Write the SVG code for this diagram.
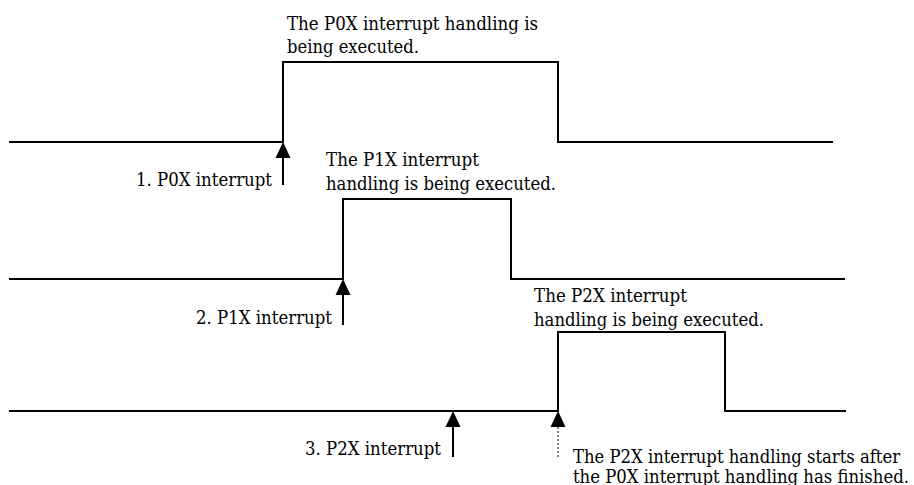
<svg xmlns="http://www.w3.org/2000/svg" width="914" height="485" viewBox="0 0 914 485">
<style>
.sig{fill:none;stroke:#000;stroke-width:2}
.arr{stroke:#000;stroke-width:2}
.dot{stroke:#000;stroke-width:1;stroke-dasharray:2 2}
.head{fill:#000}
.t{font-family:'DejaVu Serif','Liberation Serif',serif;font-size:18px;fill:#000}
</style>
<rect width="914" height="485" fill="#fff"/>
<g id="signal-p0x">
<polyline class="sig" points="9,142 283,142 283,62 558,62 558,142 833,142"/>
<text class="t" x="287" y="30" textLength="251" lengthAdjust="spacingAndGlyphs">The P0X interrupt handling is</text>
<text class="t" x="287" y="53" textLength="132" lengthAdjust="spacingAndGlyphs">being executed.</text>
</g>
<g id="signal-p1x">
<polyline class="sig" points="9,279 343,279 343,199 511,199 511,279 845,279"/>
<text class="t" x="326" y="166" textLength="153" lengthAdjust="spacingAndGlyphs">The P1X interrupt</text>
<text class="t" x="326" y="190" textLength="230" lengthAdjust="spacingAndGlyphs">handling is being executed.</text>
</g>
<g id="signal-p2x">
<polyline class="sig" points="9,411 558,411 558,332 725,332 725,411 846,411"/>
<text class="t" x="534" y="302" textLength="153" lengthAdjust="spacingAndGlyphs">The P2X interrupt</text>
<text class="t" x="534" y="326" textLength="230" lengthAdjust="spacingAndGlyphs">handling is being executed.</text>
</g>
<g id="connectors">
<line class="arr" x1="283" y1="156" x2="283" y2="185"/>
<polygon class="head" points="283,142 275.5,158 290.5,158"/>
<line class="arr" x1="343" y1="293" x2="343" y2="325"/>
<polygon class="head" points="343,279 335.5,295 350.5,295"/>
<line class="arr" x1="453" y1="425" x2="453" y2="457"/>
<polygon class="head" points="453,411 445.5,427 460.5,427"/>
<line class="dot" x1="558" y1="427" x2="558" y2="457"/>
<polygon class="head" points="558,411 550.5,427 565.5,427"/>
</g>
<g id="label-1">
<text class="t" x="272" y="186" text-anchor="end" textLength="136" lengthAdjust="spacingAndGlyphs">1. P0X interrupt</text>
</g>
<g id="label-2">
<text class="t" x="332" y="324" text-anchor="end" textLength="136" lengthAdjust="spacingAndGlyphs">2. P1X interrupt</text>
</g>
<g id="label-3">
<text class="t" x="441" y="455" text-anchor="end" textLength="136" lengthAdjust="spacingAndGlyphs">3. P2X interrupt</text>
</g>
<g id="note">
<text class="t" x="573" y="463" textLength="327" lengthAdjust="spacingAndGlyphs">The P2X interrupt handling starts after</text>
<text class="t" x="573" y="483" textLength="336" lengthAdjust="spacingAndGlyphs">the P0X interrupt handling has finished.</text>
</g>
</svg>
